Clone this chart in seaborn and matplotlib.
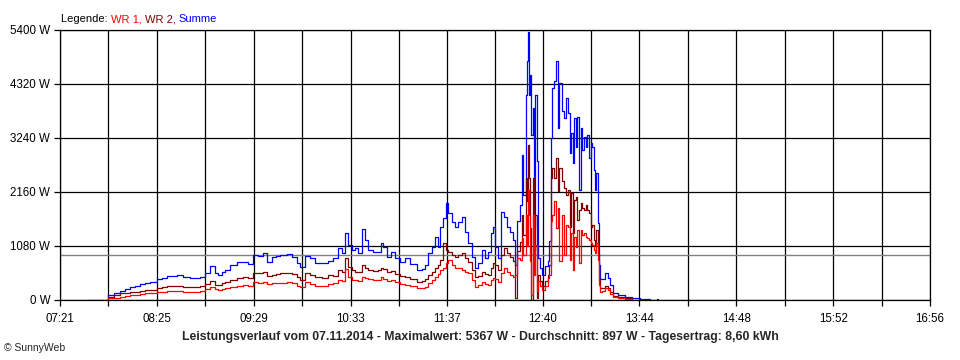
import numpy as np
import pandas as pd
import matplotlib
matplotlib.use("Agg")
import matplotlib.pyplot as plt
import seaborn as sns

nan = np.nan

# time of day in minutes after midnight
minutes = [
    458.8, 467.4, 472.1, 472.7, 476.7, 480.7, 484.0, 487.3, 490.6, 493.9,
    497.2, 500.5, 505.1, 508.4, 511.7, 515.0, 518.3, 522.3, 526.9, 530.2,
    533.5, 536.8, 540.1, 543.4, 545.4, 548.1, 550.1, 553.4, 558.0, 562.0,
    565.3, 568.6, 571.9, 575.2, 577.8, 581.1, 583.8, 586.4, 591.0, 594.3,
    597.6, 599.6, 602.9, 606.2, 609.5, 614.2, 618.1, 621.4, 624.8, 627.4,
    629.4, 631.4, 634.0, 636.0, 638.0, 640.6, 642.6, 644.6, 647.9, 651.2,
    653.2, 654.5, 657.1, 659.8, 662.4, 665.7, 669.0, 672.4, 677.0, 680.3,
    682.3, 684.2, 686.9, 688.9, 690.9, 692.2, 694.2, 696.1, 697.5, 700.1,
    702.1, 704.1, 706.7, 708.7, 710.7, 713.3, 715.3, 717.3, 719.9, 721.9,
    723.9, 725.9, 727.2, 728.5, 730.5, 732.5, 734.5, 736.5, 738.4, 740.4,
    741.7, 743.1, 745.0, 746.4, 747.0, 749.0, 749.7, 750.3, 751.0, 751.7,
    752.3, 753.6, 754.3, 755.0, 756.3, 756.9, 758.3, 759.6, 761.6, 763.6,
    764.2, 765.5, 766.2, 767.5, 768.8, 770.1, 770.8, 772.8, 774.1, 775.4,
    776.8, 778.1, 778.8, 780.1, 780.7, 782.1, 782.7, 784.0, 785.4, 786.0,
    787.3, 788.7, 789.3, 790.7, 792.0, 792.7, 794.0, 794.6, 795.3, 796.6,
    797.3, 797.9, 799.3, 801.2, 803.2, 804.6, 806.5, 809.8, 814.5, 819.1,
    824.4, 827.7, 831.0, 835.6, 836.3,
]

summe = [
    0, 0, 0, 100, 140, 186, 220, 267, 290, 320,
    340, 367, 413, 440, 480, 490, 500, 467, 433, 450,
    467, 533, 680, 533, 500, 560, 600, 700, 753, 767,
    720, 900, 880, 947, 767, 867, 880, 900, 913, 867,
    733, 667, 880, 833, 733, 733, 780, 833, 1033, 933,
    1333, 1100, 1000, 1033, 933, 1413, 1200, 1000, 967, 967,
    1147, 1067, 867, 967, 833, 767, 833, 720, 600, 613,
    700, 933, 1067, 1267, 1067, 1467, 1633, 1933, 1733, 1567,
    1467, 1567, 1667, 1367, 1133, 867, 633, 733, 1000, 833,
    967, 1333, 1467, 1067, 833, 1767, 1667, 1467, 1367, 1200,
    700, 1573, 1900, 2907, 2107, 4107, 4773, 5367, 4107, 4507,
    3307, 3840, 1440, 4107, 2773, 840, 640, 507, 673, 773,
    1173, 3240, 4240, 4373, 4773, 3440, 4340, 3773, 3640, 4040,
    3733, 2933, 3333, 2733, 3633, 3067, 3667, 2200, 3433, 3000,
    3267, 3067, 3300, 2833, 3133, 3067, 2600, 2200, 2533, 1533,
    700, 420, 420, 547, 433, 300, 133, 100, 67, 33,
    20, 13, 0, 20, 0,
]

wr2 = [
    nan, nan, nan, 67, 100, 133, 140, 160, 170, 180,
    200, 210, 233, 260, 280, 285, 287, 270, 253, 265,
    280, 330, 387, 300, 300, 340, 360, 400, 440, 467,
    433, 547, 540, 567, 480, 500, 530, 540, 547, 520,
    467, 400, 547, 510, 453, 450, 500, 480, 600, 560,
    833, 667, 600, 567, 560, 700, 650, 600, 590, 600,
    633, 620, 560, 580, 520, 480, 453, 420, 367, 380,
    413, 500, 567, 650, 700, 800, 1133, 1000, 967, 900,
    867, 900, 933, 850, 767, 600, 467, 480, 567, 520,
    500, 650, 733, 700, 600, 900, 1033, 950, 867, 780,
    40, 973, 1170, 1707, 1300, 2440, 1973, 3100, 2440, 1440,
    0, 2440, 1000, 1707, 40, 507, 373, 273, 373, 507,
    700, 2440, 2640, 2440, 2840, 2173, 2640, 2373, 2240, 2107,
    2200, 1467, 2133, 1333, 2000, 2067, 1600, 1800, 1933, 1850,
    1800, 1900, 1800, 1733, 1467, 1500, 1200, 1100, 1400, 933,
    400, 250, 240, 280, 233, 170, 90, 60, 33, 20,
    nan, nan, nan, nan, nan,
]

wr1 = [
    nan, nan, nan, 40, 50, 60, 80, 100, 110, 130,
    140, 150, 153, 170, 180, 180, 180, 170, 153, 170,
    190, 230, 253, 220, 200, 230, 250, 267, 290, 300,
    287, 367, 350, 360, 320, 347, 350, 350, 352, 340,
    290, 267, 367, 330, 280, 290, 313, 333, 400, 380,
    613, 453, 400, 400, 390, 467, 450, 413, 400, 410,
    453, 430, 390, 400, 367, 330, 300, 280, 233, 240,
    267, 340, 400, 470, 520, 600, 633, 750, 800, 700,
    633, 650, 600, 560, 533, 400, 267, 300, 367, 330,
    300, 400, 433, 420, 367, 550, 633, 560, 500, 470,
    500, 840, 800, 1240, 900, 1707, 1073, 2200, 1707, 773,
    107, 1707, 500, 1107, 173, 373, 273, 207, 273, 433,
    500, 1573, 1707, 1973, 1440, 1840, 773, 1707, 907, 1507,
    1467, 800, 1333, 600, 1267, 1067, 1400, 733, 1400, 1300,
    1333, 1267, 1250, 1200, 1133, 1100, 1000, 950, 1133, 800,
    300, 170, 180, 233, 200, 130, 60, 40, 30, 15,
    nan, nan, nan, nan, nan,
]

x_labels = ["07:21", "08:25", "09:29", "10:33", "11:37",
            "12:40", "13:44", "14:48", "15:52", "16:56"]
y_ticks = [0, 1080, 2160, 3240, 4320, 5400]
avg_w = 897
title = ("Leistungsverlauf vom 07.11.2014 - Maximalwert: 5367 W - "
         "Durchschnitt: 897 W - Tagesertrag: 8,60 kWh")
colors = {"WR 1": "#ff0000", "WR 2": "#800000", "Summe": "#0000ff"}


def to_minutes(s):
    h, m = s.split(":")
    return int(h) * 60 + int(m)


df = pd.DataFrame({"t": minutes, "Summe": summe, "WR 2": wr2, "WR 1": wr1})
long = df.melt(id_vars="t", var_name="serie", value_name="watt").dropna()

sns.set_style("white")
plt.rcParams["font.family"] = ["Liberation Sans", "DejaVu Sans"]

fig = plt.figure(figsize=(9.6, 3.6), dpi=100)
ax = fig.add_axes([60 / 960, 60 / 360, 870 / 960, 270 / 360])

sns.lineplot(data=long, x="t", y="watt", hue="serie",
             hue_order=["Summe", "WR 2", "WR 1"], palette=colors,
             estimator=None, drawstyle="steps-post", lw=0.9,
             legend=False, ax=ax, zorder=3)
ax.axhline(avg_w, color="#808080", lw=1.0, zorder=2)

# axes, ticks, grid
major = [to_minutes(s) for s in x_labels]
minor = [(a + b) / 2 for a, b in zip(major[:-1], major[1:])]
ax.set_xlim(major[0], major[-1])
ax.set_ylim(y_ticks[0], y_ticks[-1])
ax.set_xticks(major)
ax.set_xticklabels(x_labels)
ax.set_xticks(minor, minor=True)
ax.set_yticks(y_ticks)
ax.set_yticklabels([f"{v} W" for v in y_ticks])
ax.set_xlabel("")
ax.set_ylabel("")
ax.grid(which="both", color="black", lw=0.9)
ax.set_axisbelow(True)
ax.tick_params(which="both", bottom=True, left=True, direction="out",
               length=4, width=0.9, color="black", labelsize=8.3,
               labelcolor="black")
ax.tick_params(axis="x", pad=5)
ax.tick_params(axis="y", pad=3)
for sp in ax.spines.values():
    sp.set_visible(True)
    sp.set_color("black")
    sp.set_linewidth(0.9)

# coloured legend line at top
t0 = fig.text(61 / 960, 1 - 22 / 360, "Legende: ", fontsize=8,
              color="black", va="baseline")
prev = t0
for name, txt in [("WR 1", "WR 1, "), ("WR 2", "WR 2, "), ("Summe", "Summe")]:
    prev = ax.annotate(txt, xy=(1, 0), xycoords=prev, va="bottom",
                       ha="left", fontsize=8, color=colors[name],
                       annotation_clip=False)

fig.text(480 / 960, 1 - 337 / 360, title, ha="center", va="center",
         fontsize=8.8, weight="bold")
fig.text(4 / 960, 1 - 348 / 360, "\u00a9 SunnyWeb", fontsize=7.5,
         va="center")

fig.savefig("out.png", dpi=100)
